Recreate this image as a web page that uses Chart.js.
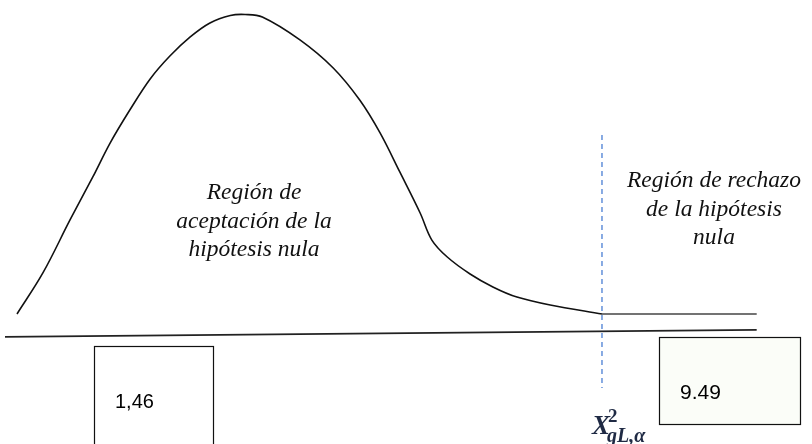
<!DOCTYPE html>
<html>
<head>
<meta charset="utf-8">
<script src="https://cdn.jsdelivr.net/npm/chart.js@4.4.1/dist/chart.umd.min.js"></script>
<style>
    body { margin: 0; background: #fff; }
    #wrap { width: 812px; height: 444px; position: relative; }
</style>
</head>
<body>
<div id="wrap"><canvas id="chart" width="812" height="444"></canvas></div>
<script>
// chi-square curve (x = statistic, y = density)
const curveX = [0, 0.42, 0.86, 1.23, 1.51, 1.83, 2.16, 2.48, 2.81, 3.13, 3.46, 3.70, 3.98, 4.59, 5.13, 5.56,
    5.89, 6.21, 6.54, 6.73, 6.98, 7.35, 7.72, 8.11, 8.65, 9.49];
const curveY = [0, 0.0247, 0.0566, 0.0825, 0.1029, 0.1228, 0.1415, 0.1553, 0.1668, 0.1752, 0.1797, 0.1803, 0.1788, 0.165, 0.1481, 0.1288,
    0.109, 0.0855, 0.0608, 0.0445, 0.0343, 0.0241, 0.0163, 0.0102, 0.0054, 0];
const tailX = [9.49, 12.0];
const tailY = [0, 0];
const axisX = [-0.195, 12.0];
const axisY = [-0.0138, -0.0096];
const criticalValue = 9.49;
const criticalY = [0.1078, -0.0445];
const observedLabel = '1,46';
const criticalLabel = '9.49';
const acceptText = ['Región de', 'aceptación de la', 'hipótesis nula'];
const rejectText = ['Región de rechazo', 'de la hipótesis', 'nula'];

function toPoints(xs, ys) {
    return xs.map((x, i) => ({ x: x, y: ys[i] }));
}

// boxes, region texts and the X² label
const annotations = {
    id: 'annotations',
    afterDatasetsDraw(chart) {
        const ctx = chart.ctx;
        const xs = chart.scales.x;
        ctx.save();

        ctx.strokeStyle = '#111';
        ctx.lineWidth = 1.2;
        ctx.strokeRect(94.5, 346.5, 119, 110);
        ctx.fillStyle = '#fbfdf8';
        ctx.fillRect(659.5, 337.5, 141, 87);
        ctx.strokeRect(659.5, 337.5, 141, 87);

        ctx.fillStyle = '#000';
        ctx.textBaseline = 'middle';
        ctx.textAlign = 'left';
        ctx.font = '20px "Liberation Sans", Arial, sans-serif';
        ctx.fillText(observedLabel, 115, 402);
        ctx.font = '21px "Liberation Sans", Arial, sans-serif';
        ctx.fillText(criticalLabel, 680, 393);

        ctx.textBaseline = 'alphabetic';
        ctx.textAlign = 'center';
        ctx.fillStyle = '#111';
        ctx.font = 'italic 23.5px "Liberation Serif", "Times New Roman", serif';
        acceptText.forEach((t, i) => ctx.fillText(t, 254, 199 + i * 28.5));
        rejectText.forEach((t, i) => ctx.fillText(t, 714, 187 + i * 28.5));

        const cx = xs.getPixelForValue(criticalValue);
        ctx.textAlign = 'left';
        ctx.fillStyle = '#1f2a44';
        ctx.font = 'italic bold 27px "Liberation Serif", serif';
        ctx.fillText('X', cx - 10, 434);
        ctx.font = 'bold 19px "Liberation Serif", serif';
        ctx.fillText('2', cx + 6, 422);
        ctx.font = 'italic bold 20px "Liberation Serif", serif';
        ctx.fillText('gL,α', cx + 5, 442);
        ctx.restore();
    }
};

new Chart(document.getElementById('chart'), {
    type: 'scatter',
    data: {
        datasets: [
            {
                data: toPoints(curveX, curveY),
                showLine: true,
                borderColor: '#111',
                borderWidth: 1.6,
                pointRadius: 0,
                tension: 0.35
            },
            {
                data: toPoints(tailX, tailY),
                showLine: true,
                borderColor: '#444',
                borderWidth: 1.6,
                pointRadius: 0
            },
            {
                data: toPoints(axisX, axisY),
                showLine: true,
                borderColor: '#222',
                borderWidth: 1.8,
                pointRadius: 0
            },
            {
                data: toPoints([criticalValue, criticalValue], criticalY),
                showLine: true,
                borderColor: '#4a7fd4',
                borderWidth: 1.3,
                borderDash: [5, 4],
                pointRadius: 0
            }
        ]
    },
    options: {
        responsive: false,
        animation: false,
        devicePixelRatio: 1,
        layout: { padding: 0 },
        plugins: { legend: { display: false }, tooltip: { enabled: false } },
        scales: {
            x: { type: 'linear', min: -0.2758, max: 12.897, display: false },
            y: { type: 'linear', min: -0.07826, max: 0.18903, display: false }
        }
    },
    plugins: [annotations]
});
</script>
</body>
</html>
